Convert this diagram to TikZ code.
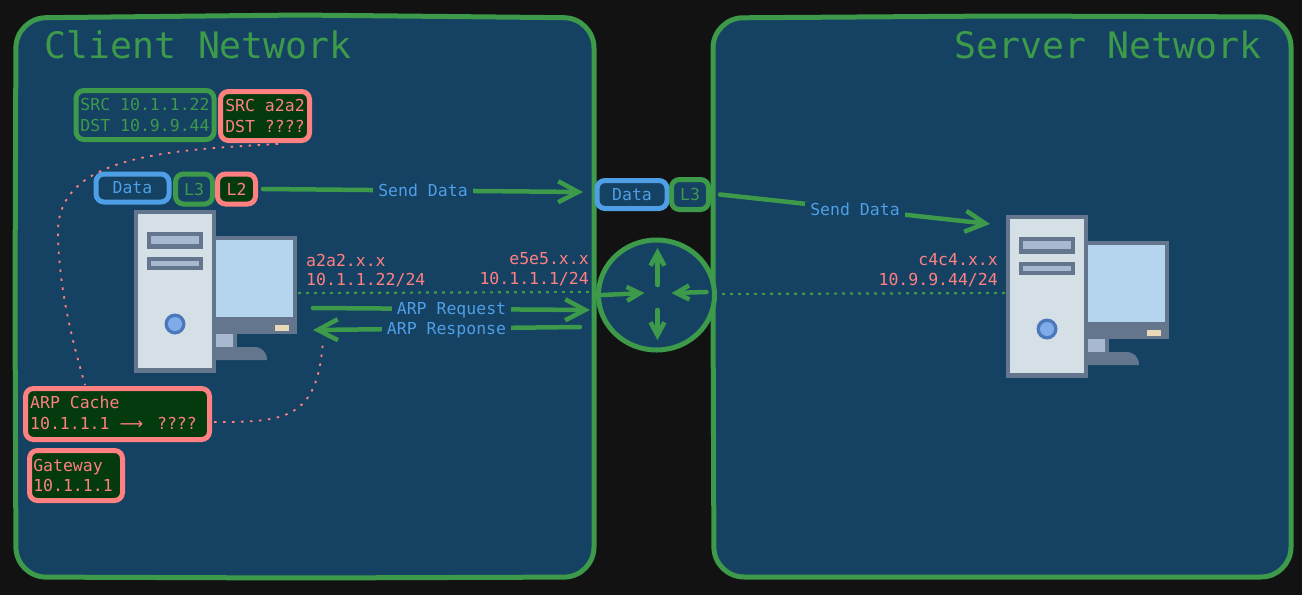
\documentclass[tikz,border=0pt]{standalone}
\usepackage{fontspec}
\setmonofont{DejaVu Sans Mono}
\newfontfamily\arrowFont{DejaVu Sans}
\usetikzlibrary{arrows.meta}
\usetikzlibrary{shapes.geometric}
\definecolor{pageColor}{RGB}{18,18,18}
\definecolor{panelColor}{RGB}{21,65,99}
\definecolor{lineGreen}{RGB}{60,154,74}
\definecolor{linePink}{RGB}{255,128,128}
\definecolor{lineBlue}{RGB}{79,159,230}
\definecolor{darkGreen}{RGB}{3,58,14}
\definecolor{pcFrame}{RGB}{100,118,142}
\definecolor{pcCase}{RGB}{213,223,230}
\definecolor{pcDrive}{RGB}{168,184,208}
\definecolor{pcScreen}{RGB}{181,213,239}
\definecolor{pcLed}{RGB}{234,217,184}
\definecolor{pcRing}{RGB}{75,120,187}
\definecolor{pcButton}{RGB}{127,171,232}
\tikzstyle{canvas} = [x = 1pt, y = -1pt]
\tikzstyle{panelStyle} = [draw=lineGreen, fill=panelColor, line width=5pt, rounded corners = 30pt]
\tikzstyle{labelText} = [font=\ttfamily\fontsize{16.5}{20.5}\selectfont, align=left, inner sep=0pt]
\tikzstyle{titleText} = [font=\ttfamily\fontsize{36.5}{40}\selectfont, text=lineGreen, inner sep=0pt]
\tikzstyle{boxBase} = [labelText, draw, line width=5pt, rounded corners = 8pt, align=center]
\tikzstyle{greenBox} = [boxBase, draw=lineGreen, text=lineGreen, fill=panelColor]
\tikzstyle{blueBox} = [boxBase, draw=lineBlue, text=lineBlue, fill=panelColor]
\tikzstyle{pinkBox} = [boxBase, draw=linePink, text=linePink, fill=darkGreen]
\tikzstyle{addressText} = [labelText, text=linePink]
\tikzstyle{flowText} = [labelText, text=lineBlue, fill=panelColor, inner xsep=5pt, inner ysep=1pt]
\tikzstyle{flowLine} = [draw=lineGreen, line width=4.5pt, line cap=round, -{Straight Barb[length=20pt, width=21pt, line width=4.5pt]}]
\tikzstyle{routerLine} = [draw=lineGreen, line width=4.5pt, line cap=round, -{Straight Barb[length=13pt, width=14pt, line width=4.5pt]}]
\tikzstyle{linkLine} = [draw=lineGreen, line width=2.2pt, dash pattern=on 3pt off 5pt]
\tikzstyle{noteLine} = [draw=linePink, line width=1.8pt, dash pattern=on 2.5pt off 6.5pt]
\newcommand{\sizedBox}[7]{\node [#1, minimum width=#5pt, minimum height=#6pt] (#2) at (#3,#4) {#7};}
\newcommand{\computerIcon}[3]{
  \begin{scope}[shift={(#2,#3)}]
    \fill [pcFrame] (134,210) rectangle (216,373);
    \fill [pcCase] (138,214) rectangle (212,368);
    \fill [pcFrame] (147,232) rectangle (203,249);
    \fill [pcDrive] (151,236) rectangle (199,244);
    \fill [pcFrame] (147,257) rectangle (203,270);
    \fill [pcDrive] (151,261) rectangle (199,266);
    \fill [pcRing] (175,324) circle (10.5);
    \fill [pcButton] (175,324) circle (7);
    \fill [pcFrame] (216,236) rectangle (297,334);
    \fill [pcScreen] (216,240) rectangle (293,317);
    \fill [pcLed] (275,325) rectangle (289,331);
    \fill [pcFrame] (216,334) rectangle (237,348);
    \fill [pcDrive] (216,334) rectangle (233,347);
    \fill [pcFrame] (216,347) -- (254,347) .. controls (262,347) and (267,352) .. (267,360) -- (216,360) -- cycle;
    \coordinate (#1) at (216,290);
  \end{scope}
}
\begin{document}
\begin{tikzpicture}[canvas]
  \useasboundingbox [fill=pageColor] (0,0) rectangle (1302,595);

  % the two networks
  \path [panelStyle] (16,18) -- (300,15) -- (594,18) -- (594,330) -- (594,577) -- (300,578) -- (16,577) -- (15,300) -- cycle;
  \path [panelStyle] (713,18) -- (1000,16) -- (1291,17) -- (1291,577) -- (1000,577) -- (714,577) -- (713,300) -- cycle;
  \node [titleText, anchor=west] (clientTitle) at (44,45) {Client Network};
  \node [titleText, anchor=east] (serverTitle) at (1262,45) {Server Network};

  \computerIcon{clientPc}{0}{0}
  \computerIcon{serverPc}{872}{5}

  % headers at the client
  \sizedBox{greenBox}{ipHeader}{145}{115}{138}{49}{SRC 10.1.1.22\\DST 10.9.9.44}
  \sizedBox{pinkBox}{macHeader}{265}{116}{89}{49}{SRC a2a2\\DST ????}
  \sizedBox{blueBox}{clientData}{132.5}{188}{73}{28}{Data}
  \sizedBox{greenBox}{clientThree}{194}{189}{37}{30}{L3}
  \sizedBox{pinkBox}{clientTwo}{236.5}{189}{38}{30}{L2}
  \sizedBox{pinkBox}{arpCache}{117.5}{414}{184}{51}{\raisebox{-1pt}[\height][\depth]{\begin{tabular}{@{}l@{}}ARP Cache\\10.1.1.1 {\arrowFont ⟶}\hspace{4pt} ????\end{tabular}}\hspace*{8pt}}
  \sizedBox{pinkBox}{gatewayBox}{76}{475.5}{93}{50}{\raisebox{-2pt}[\height][\depth]{\begin{tabular}{@{}l@{}}Gateway\\10.1.1.1\end{tabular}}\hspace*{6pt}}

  % headers past the client
  \sizedBox{blueBox}{routerData}{632}{194.5}{70}{28}{Data}
  \sizedBox{greenBox}{routerThree}{690}{194.5}{37}{30}{L3}

  % router
  \node [ellipse, draw=lineGreen, fill=panelColor, line width=5pt, minimum width=116pt, minimum height=110pt, inner sep=0pt] (router) at (656.5,295) {};
  \foreach \xa/\ya/\xb/\yb in {1/-10/1/-47, 1/15/1/45, -54/0/-12/-2, 50/-3/15/-2} {
    \draw [routerLine] ([shift={(\xa,\ya)}]router.center) -- ([shift={(\xb,\yb)}]router.center);
  }

  % free ends
  \coordinate (routerEntry) at (583,192);
  \coordinate (serverEnd) at (990,224);
  \coordinate (clientLink) at (298,293);
  \coordinate (routerLeft) at (596,292);
  \coordinate (routerRight) at (722,294);
  \coordinate (serverLink) at (1005,293);
  \coordinate (requestStart) at (313,308);
  \coordinate (requestEnd) at (590,310);
  \coordinate (responseStart) at (580,327);
  \coordinate (responseEnd) at (313,330);
  \coordinate (cacheTop) at (85,385);
  \coordinate (macBottom) at (278,144);
  \coordinate (cacheRight) at (214,422);
  \coordinate (responseNote) at (323,340);

  % links
  \draw [linkLine] (clientLink) -- (routerLeft);
  \draw [linkLine] (routerRight) -- (serverLink);

  % data flow
  \draw [flowLine] ([xshift=5pt]clientTwo.east) -- node [flowText] (sendOne) {Send Data} (routerEntry);
  \draw [flowLine] ([xshift=9pt]routerThree.east) -- node [flowText] (sendTwo) {Send Data} (serverEnd);
  \draw [flowLine] (requestStart) -- node [flowText, yshift=-1pt] (arpRequest) {ARP Request} (requestEnd);
  \draw [flowLine] (responseStart) -- node [flowText, yshift=-1.5pt] (arpResponse) {ARP Response} (responseEnd);

  % notes
  \draw [noteLine] (macBottom) .. controls (170,150) and (60,155) .. (58,230) .. controls (58,290) and (75,350) .. (cacheTop);
  \draw [noteLine] (cacheRight) .. controls (285,422) and (318,420) .. (responseNote);

  % addresses
  \node [addressText, anchor=west] (clientMac) at (306,260) {a2a2.x.x};
  \node [addressText, anchor=west] (clientIp) at (306,280) {10.1.1.22/24};
  \node [addressText, anchor=east] (routerMac) at (589,259) {e5e5.x.x};
  \node [addressText, anchor=east] (routerIp) at (589,279) {10.1.1.1/24};
  \node [addressText, anchor=east] (serverMac) at (998,260) {c4c4.x.x};
  \node [addressText, anchor=east] (serverIp) at (998,280) {10.9.9.44/24};
\end{tikzpicture}
\end{document}
